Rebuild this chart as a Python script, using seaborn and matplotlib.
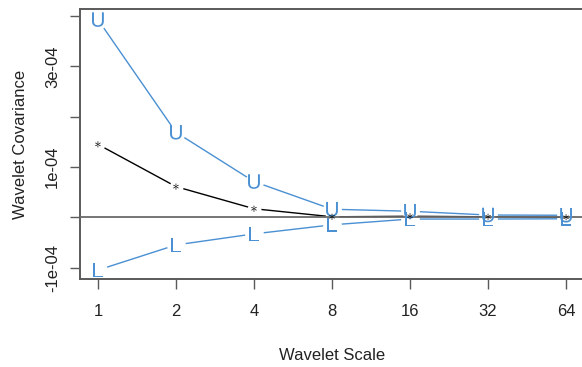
import numpy as np
import pandas as pd
import matplotlib
matplotlib.use("Agg")
import matplotlib.pyplot as plt
import seaborn as sns

# ---- data ----
scales = [1, 2, 4, 8, 16, 32, 64]
upper = [3.93e-4, 1.69e-4, 0.71e-4, 0.16e-4, 0.12e-4, 0.045e-4, 0.04e-4]
estimate = [1.45e-4, 0.61e-4, 0.17e-4, 0.01e-4, 0.02e-4, 0.01e-4, 0.0]
lower = [-1.05e-4, -0.55e-4, -0.33e-4, -0.15e-4, -0.035e-4, -0.035e-4, -0.03e-4]
xtick_labels = ["1", "2", "4", "8", "16", "32", "64"]
ytick_values = [-1e-4, 0, 1e-4, 2e-4, 3e-4, 4e-4]
ytick_labels = ["-1e-04", "", "1e-04", "", "3e-04", ""]

sns.set_theme(style="white")
plt.rcParams["font.family"] = ["Liberation Sans", "DejaVu Sans"]
plt.rcParams["mathtext.fontset"] = "custom"
plt.rcParams["mathtext.rm"] = "Liberation Sans"
plt.rcParams["mathtext.it"] = "Liberation Sans"

blue = "#4a90d2"
df = pd.DataFrame({"scale": scales, "upper": upper, "est": estimate, "lower": lower})

fig = plt.figure(figsize=(5.82, 3.67), dpi=100)
ax = fig.add_axes([80 / 582, 1 - 279.3 / 367, 504 / 582, 270 / 367])

gap = dict(marker="o", markersize=13.5, markerfacecolor="white",
           markeredgewidth=0, estimator=None, sort=False)
sns.lineplot(data=df, x="scale", y="lower", color=blue, linewidth=1.0, ax=ax, zorder=2, **gap)
sns.lineplot(data=df, x="scale", y="upper", color=blue, linewidth=1.0, ax=ax, zorder=2.1, **gap)
sns.lineplot(data=df, x="scale", y="est", color="black", linewidth=1.0, ax=ax, zorder=2.2,
             marker="o", markersize=10, markerfacecolor="white", markeredgewidth=0,
             estimator=None, sort=False)

ax.axhline(0, color="#6a6a6a", linewidth=1.3, zorder=3)

sns.scatterplot(data=df, x="scale", y="upper", marker=r"$\mathrm{U}$", s=110,
                color=blue, edgecolor="none", ax=ax, zorder=4)
sns.scatterplot(data=df, x="scale", y="lower", marker=r"$\mathrm{L}$", s=110,
                color=blue, edgecolor="none", ax=ax, zorder=4)
sns.scatterplot(data=df, x="scale", y="est", marker=r"$\ast$", s=20,
                color="black", edgecolor="none", ax=ax, zorder=4.5)

ax.set_xscale("log", base=2)
ax.set_xlim(2 ** -0.23, 2 ** 6.23)
ax.set_ylim(-1.233e-4, 4.135e-4)
ax.set_xticks(scales)
ax.set_xticklabels(xtick_labels)
ax.minorticks_off()
ax.set_yticks(ytick_values)
ax.set_yticklabels(ytick_labels, rotation=90, va="center")

for side in ["left", "bottom", "top", "right"]:
    ax.spines[side].set_color("#5a5a5a")
    ax.spines[side].set_linewidth(1.4)

ax.tick_params(axis="both", which="major", length=7.5, width=1.0, color="#5a5a5a",
               labelsize=12, labelcolor="#222222", left=True, bottom=True)
ax.tick_params(axis="x", pad=10)
ax.tick_params(axis="y", pad=7)

ax.set_xlabel("Wavelet Scale", fontsize=12, color="#222222", labelpad=21)
ax.set_ylabel("Wavelet Covariance", fontsize=12, color="#222222", labelpad=12)
ax.legend_ = None

fig.savefig("out.png", dpi=100)
